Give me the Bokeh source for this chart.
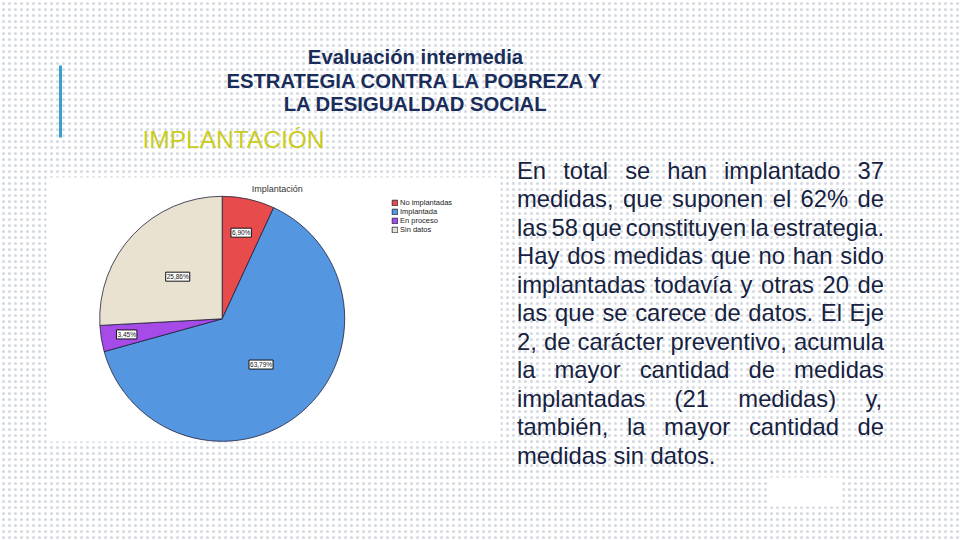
import math
from bokeh.plotting import figure
from bokeh.models import ColumnDataSource, Range1d, Legend, LegendItem
from bokeh.core.properties import value
from bokeh.embed import file_html
from bokeh.resources import INLINE

# ---------------- data ----------------
slide_title = ["Evaluación intermedia",
               "ESTRATEGIA CONTRA LA POBREZA Y",
               "LA DESIGUALDAD SOCIAL"]
section_label = "IMPLANTACIÓN"
chart_title = "Implantación"
categories = ["No implantadas", "Implantada", "En proceso", "Sin datos"]
percentages = [6.90, 63.79, 3.45, 25.86]
pct_labels = ["6,90%", "63,79%", "3,45%", "25,86%"]
paragraph_lines = [
    "En total se han implantado 37",
    "medidas, que suponen el 62% de",
    "las 58 que constituyen la estrategia.",
    "Hay dos medidas que no han sido",
    "implantadas todavía y otras 20 de",
    "las que se carece de datos. El Eje",
    "2, de carácter preventivo, acumula",
    "la mayor cantidad de medidas",
    "implantadas (21 medidas) y,",
    "también, la mayor cantidad de",
    "medidas sin datos.",
]

# ---------------- style ----------------
slice_colors = ["#e84b4c", "#5596e0", "#a64ae8", "#e9e2d0"]
label_radial = [0.72, 0.49, 0.79, 0.50]
FONT_NAME = "Liberation Sans"
FONT = value(FONT_NAME)
NAVY = "#1a2d5a"
TEXT = "#16223f"
MID = 0.31  # distance baseline -> 'middle' as a fraction of the font size

W, H = 960, 540
def Y(s):  # screen y (page px) -> data y
    return 540 - s

p = figure(width=W, height=H, x_range=Range1d(0, 960), y_range=Range1d(0, 540),
           output_backend="svg", toolbar_location=None, min_border=0,
           x_axis_type=None, y_axis_type=None)
p.grid.visible = False
p.outline_line_color = None
p.background_fill_color = "white"
p.border_fill_color = "white"

# dotted slide background
p.quad(left=[0], right=[960], bottom=[0], top=[540], fill_color="white",
       line_color=None, hatch_pattern="dot", hatch_color="#d3d9e1",
       hatch_scale=6, hatch_weight=0.3)

# white image area of the pie chart and white patch bottom right
p.quad(left=[46, 768], right=[500, 842], bottom=[Y(441), Y(506)], top=[Y(177), Y(477)],
       fill_color="white", line_color=None)

# accent bar
p.segment(x0=[60], y0=[Y(65)], x1=[60], y1=[Y(137)], line_color="#35a2cc", line_width=3)

# slide title
TFS = 20.3
p.text(x=[415] * 3, y=[Y(b - MID * TFS) for b in (63, 87, 110)], text=slide_title,
       text_align="center", text_baseline="middle", text_font=FONT,
       text_font_style="bold", text_font_size=f"{TFS}px", text_color=NAVY)

# section label
SFS = 24.5
p.text(x=[142], y=[Y(147 - MID * SFS)], text=[section_label], text_align="left",
       text_baseline="middle", text_font=FONT, text_font_size=f"{SFS}px",
       text_color="#c9cc1f")

# ---------------- pie ----------------
cx, cy, R = 221.7, Y(318.3), 122.5
starts, ends, lx, ly = [], [], [], []
cum = 0.0
total = sum(percentages)
for i, v in enumerate(percentages):
    f0, f1 = cum / total, (cum + v) / total
    starts.append(math.pi / 2 - 2 * math.pi * f0)
    ends.append(math.pi / 2 - 2 * math.pi * f1)
    mid = 2 * math.pi * (f0 + f1) / 2
    lx.append(cx + label_radial[i] * R * math.sin(mid))
    ly.append(cy + label_radial[i] * R * math.cos(mid))
    cum += v

src = ColumnDataSource(dict(cat=categories, start=starts, end=ends, color=slice_colors,
                            x=[cx] * 4, y=[cy] * 4, lx=lx, ly=ly, lab=pct_labels))
r = p.wedge(x="x", y="y", radius=R, start_angle="start", end_angle="end",
            direction="clock", fill_color="color", line_color="#20203a",
            line_width=0.8, source=src)

p.text(x="lx", y="ly", text="lab", source=src, text_align="center",
       text_baseline="middle", text_font=FONT, text_font_size="6.5px",
       text_color="#111111", background_fill_color="white",
       border_line_color="#111111", border_line_width=1, padding=1)

p.text(x=[276.7], y=[Y(188.3)], text=[chart_title], text_align="center",
       text_baseline="middle", text_font=FONT, text_font_size="9px",
       text_color="#333333")

legend = Legend(items=[LegendItem(label=categories[i], renderers=[r], index=i)
                       for i in range(len(categories))],
                location=(391, 306), orientation="vertical",
                glyph_width=7, glyph_height=7, label_height=9, label_standoff=2,
                spacing=0, padding=0, margin=0,
                label_text_font=FONT_NAME, label_text_font_size="7.5px",
                label_text_color="#222222",
                background_fill_alpha=0, border_line_color=None)
p.add_layout(legend, "center")

# ---------------- justified paragraph ----------------
AW = {"a": 556, "b": 556, "c": 500, "d": 556, "e": 556, "f": 278, "g": 556, "h": 556,
      "i": 222, "j": 222, "k": 500, "l": 222, "m": 833, "n": 556, "o": 556, "p": 556,
      "q": 556, "r": 333, "s": 500, "t": 278, "u": 556, "v": 500, "w": 722, "x": 500,
      "y": 500, "z": 500, "á": 556, "é": 556, "í": 278, "ó": 556, "E": 667, "H": 722,
      ",": 278, ".": 278, "%": 889, "(": 333, ")": 333, " ": 278}
FS = 23.8
def tw(s):
    return sum(AW.get(c, 556) for c in s) * FS / 1000.0

x0, x1 = 516.5, 883.5
wx, wy, wt = [], [], []
for i, line in enumerate(paragraph_lines):
    base = 177 + 28.5 * i
    words = line.split(" ")
    if i == len(paragraph_lines) - 1 or len(words) < 2:
        gap = tw(" ")
    else:
        gap = (x1 - x0 - sum(tw(w) for w in words)) / (len(words) - 1)
    x = x0
    for w in words:
        wx.append(x)
        wy.append(Y(base - MID * FS))
        wt.append(w)
        x += tw(w) + gap

p.text(x=wx, y=wy, text=wt, text_align="left", text_baseline="middle",
       text_font=FONT, text_font_size=f"{FS}px", text_color=TEXT)

open("out.html", "w").write(file_html(p, INLINE))
